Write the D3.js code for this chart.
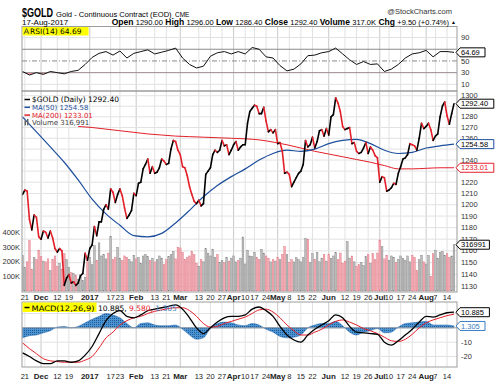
<!DOCTYPE html>
<html lang="en">
<head>
<meta charset="UTF-8">
<title>$GOLD daily</title>
<script src="https://d3js.org/d3.v7.min.js"></script>
<style>
    body { margin: 0; background: #fff; }
    svg text { font-family: "Liberation Sans", Arial, sans-serif; }
    .mono { font-family: "DejaVu Sans", Verdana, sans-serif; }
</style>
</head>
<body>
<svg id="chart" width="500" height="391"></svg>
<script>
    // trading calendar (CME holidays skipped)
    const firstDay = "2016-11-18", lastDay = "2017-08-17";
    const holidays = ["2016-11-24", "2016-12-26", "2017-01-02", "2017-01-16",
                      "2017-02-20", "2017-04-14", "2017-05-29", "2017-07-04"];

    // daily closes, Nov 18 2016 .. Aug 17 2017
    const closes = [
        1209, 1213, 1212, 1187, 1178, 1191, 1189, 1172,
        1170, 1177, 1176, 1171, 1177, 1171, 1162, 1159, 1162, 1160, 1131, 1137, 1140, 1133, 1134, 1131, 1133, 1139, 1141, 1158, 1152,
        1162, 1165, 1181, 1173, 1185, 1185, 1196, 1200, 1196, 1214, 1211, 1202, 1209, 1214, 1208, 1197, 1188, 1191, 1195, 1210,
        1208, 1219, 1220, 1232, 1236, 1241, 1228, 1234, 1228, 1229, 1233, 1241, 1239, 1236, 1237, 1250, 1258, 1257, 1249,
        1245, 1234, 1233, 1226, 1216, 1209, 1203, 1201, 1204, 1199, 1201, 1227, 1230, 1233, 1245, 1249, 1247, 1249, 1258, 1253, 1254, 1245, 1249,
        1254, 1257, 1249, 1252, 1254, 1254, 1274, 1285, 1288, 1291, 1290, 1283, 1283, 1289, 1276, 1266, 1268, 1265, 1268,
        1255, 1256, 1248, 1228, 1229, 1227, 1216, 1220, 1224, 1228, 1230, 1236, 1258, 1252, 1254, 1261, 1251, 1257, 1267, 1268, 1262, 1269,
        1263, 1280, 1282, 1298, 1293, 1285, 1271, 1268, 1269, 1270, 1255, 1256, 1248, 1246, 1247, 1251, 1256, 1246, 1252, 1249, 1244, 1242,
        1220, 1225, 1224, 1212, 1213, 1215, 1219, 1218, 1228, 1234, 1241, 1242, 1245, 1255, 1254, 1253, 1249, 1260, 1274, 1269,
        1271, 1274, 1268, 1258, 1262, 1264, 1280, 1290, 1294, 1281, 1273, 1283, 1292.4
    ];

    // daily volume in thousands
    const volumes = [
        245, 160, 200, 345, 150, 230, 215, 280,
        235, 205, 200, 220, 140, 215, 240, 170, 190, 150, 255, 215, 160, 125, 120, 105, 80, 110, 70, 95, 200,
        230, 180, 310, 210, 330, 240, 250, 220, 260, 375, 215, 230, 300, 225, 210, 240, 230, 215, 200, 245,
        220, 230, 190, 240, 250, 235, 210, 225, 200, 215, 240, 225, 180, 215, 235, 250, 270, 220, 300,
        295, 265, 215, 230, 240, 270, 250, 190, 170, 215, 200, 290, 260, 240, 285, 230, 250, 195, 210, 195, 230, 205, 225,
        240, 200, 210, 225, 370, 185, 280, 240, 235, 265, 230, 215, 285, 260, 240, 225, 200, 215, 205,
        230, 215, 250, 305, 250, 195, 215, 200, 230, 215, 200, 230, 360, 355, 195, 255, 215, 265, 200, 225, 250, 205,
        250, 225, 240, 265, 215, 260, 190, 205, 338, 225, 240, 200, 170, 180, 195, 175, 235, 250, 190, 255, 215, 260,
        350, 305, 220, 245, 210, 240, 230, 195, 215, 240, 225, 210, 240, 200, 245, 230, 140, 215, 245, 200,
        185, 245, 100, 255, 280, 225, 265, 270, 245, 255, 230, 240, 317
    ];

    // moving averages, one reading every 6 trading days
    const maStep = 6;
    const ma50 = [1280, 1266, 1252, 1238, 1222, 1205, 1192, 1182, 1173, 1172, 1175, 1184, 1195, 1207, 1217, 1225,
                  1232, 1240, 1246, 1249, 1248, 1250, 1255, 1258, 1259, 1255, 1249, 1246, 1247, 1251, 1253, 1254.58];
    const ma200 = [null, null, null, null, 1271, 1270, 1268.5, 1267, 1265.5, 1264, 1263, 1262, 1261.5, 1261, 1260.5, 1260,
                   1259.5, 1258.5, 1256.5, 1254, 1251, 1248, 1245.5, 1243, 1240.5, 1238, 1235, 1232, 1232, 1232.5, 1233, 1233.01];

    // indicators, one reading every 3 trading days
    const indStep = 3;
    const rsi = [32, 26, 30, 27, 32, 30, 28, 32, 34, 44, 56, 63, 66, 60, 67, 55, 63, 66, 69, 62,
                 65, 68, 72, 55, 44, 38, 41, 58, 64, 66, 62, 66, 62, 73, 70, 57, 55, 42, 33, 36,
                 45, 59, 60, 64, 66, 72, 62, 52, 44, 49, 44, 45, 32, 36, 44, 55, 62, 64, 68, 57, 66, 66, 64.69];
    const macd = [-17.5, -20, -23, -25, -25, -23, -23, -24, -23, -19, -13, -4, 5, 10, 12, 8, 7, 9, 12, 13,
                  14, 15, 16, 13, 7, 0, -4, 0, 4, 7, 8, 8, 9, 13, 14.5, 12, 8, 1, -5, -8.5,
                  -10, -5, -1, 2, 5, 9, 7, 1, -3, -3.5, -4, -4.5, -10, -12, -9, -5, -1, 4, 8, 7.5, 9, 10.5, 10.885];
    const signal = [-10.5, -14.5, -18, -21.5, -23, -23.5, -24, -24, -24, -22.5, -20, -14, -7, -3, 2, 5, 7, 8, 10, 11.5,
                    12.5, 13.5, 14, 14, 12, 8, 3, 0.5, 1, 3, 4.5, 6, 7.5, 10, 12.5, 13, 11, 7, 2, -2,
                    -5, -5, -3, -1, 2, 4.5, 5.5, 4, 2, -0.5, -2, -4, -6.5, -9, -9.5, -8, -4.5, 0, 3.5, 5.5, 7, 8.5, 9.58];
    const hist = [-7, -5.5, -5, -3.5, -2, 0.5, 1, 0, 1, 3.5, 6, 8, 10, 9, 7, 3, 0, 3, 3.5, 2,
                  1.5, 1.5, 2, -1, -5, -8, -7, -0.5, 3, 4, 3.5, 2, 1.5, 3, 2, -1, -3, -6, -7, -6.5,
                  -5, 0, 2, 3, 3, 4.5, 1.5, -3, -5, -3, -2, -0.5, -3.5, -3, 0.5, 3, 3.5, 4, 4.5, 2, 2, 2, 1.305];

    // date axis
    const tickDates = ["2016-11-21", "2016-12-01", "2016-12-12", "2016-12-19", "2017-01-03", "2017-01-17", "2017-01-23",
                       "2017-02-01", "2017-02-13", "2017-02-21", "2017-03-01", "2017-03-13", "2017-03-20", "2017-03-27",
                       "2017-04-03", "2017-04-10", "2017-04-17", "2017-04-24", "2017-05-01", "2017-05-08", "2017-05-15",
                       "2017-05-22", "2017-06-01", "2017-06-12", "2017-06-19", "2017-06-26", "2017-07-03", "2017-07-10",
                       "2017-07-17", "2017-07-24", "2017-08-01", "2017-08-07", "2017-08-14"];
    const tickLabels = ["21", "Dec", "12", "19", "2017", "17", "23", "Feb", "13", "21", "Mar", "13", "20", "27",
                        "Apr", "10", "17", "24", "May", "8", "15", "22", "Jun", "12", "19", "26", "Jul", "10",
                        "17", "24", "Aug", "7", "14"];

    const priceTicks = d3.range(1130, 1301, 10);
    const rsiTicks = [10, 30, 50, 70, 90];
    const macdTicks = [-20, -10, 0, 10];
    const volTicks = [100, 200, 300, 400];

    const quoteLabels = ["Open", "High", "Low", "Close", "Volume", "Chg"];
    const quoteValues = ["1290.00", "1296.00", "1286.40", "1292.40", "317.0K", "+9.50 (+0.74%)"];

    // ---------------------------------------------------------------
    const days = [];
    for (let d = new Date(firstDay + "T00:00:00Z"); d <= new Date(lastDay + "T00:00:00Z"); d.setUTCDate(d.getUTCDate() + 1)) {
        const s = d.toISOString().slice(0, 10);
        const wd = d.getUTCDay();
        if (wd !== 0 && wd !== 6 && !holidays.includes(s)) days.push(s);
    }
    if (days.length !== closes.length) console.warn("day count", days.length, closes.length);

    const svg = d3.select("#chart");
    const X0 = 22, X1 = 457;
    const RED = "#e3202a", BLUE = "#1d4f9c", GRID = "#e2e2e2";

    const x = d3.scaleLinear().domain([0, closes.length - 1]).range([22.5, 454]);
    const yRsi = d3.scaleLinear().domain([0, 100]).range([90.2, 31.7]);
    const yPx = d3.scaleLog().domain([1125.5, 1304.5]).range([292, 91]);
    const yVol = d3.scaleLinear().domain([0, 400]).range([291, 232.6]);
    const yMacd = d3.scaleLinear().domain([-27.3, 18]).range([367, 302]);

    const panels = [
        { id: "rsi", top: 26.5, bottom: 91 },
        { id: "px", top: 91, bottom: 292 },
        { id: "macd", top: 302, bottom: 367 }
    ];

    const defs = svg.append("defs");
    panels.forEach(p => {
        defs.append("clipPath").attr("id", "clip-" + p.id)
            .append("rect").attr("x", X0).attr("y", p.top).attr("width", X1 - X0).attr("height", p.bottom - p.top);
    });
    defs.append("clipPath").attr("id", "clip-below30")
        .append("rect").attr("x", X0).attr("y", yRsi(30)).attr("width", X1 - X0).attr("height", 91 - yRsi(30));
    const pat = defs.append("pattern").attr("id", "dots").attr("width", 2).attr("height", 2)
        .attr("patternUnits", "userSpaceOnUse");
    pat.append("rect").attr("width", 2).attr("height", 2).attr("fill", "#4c93d2");
    pat.append("rect").attr("width", 1).attr("height", 1).attr("fill", "#1f5b98");

    // grid
    const tickIdx = tickDates.map(t => days.indexOf(t));
    const isMonth = l => isNaN(+l) || l.length === 4;
    panels.forEach(p => {
        const g = svg.append("g");
        g.selectAll("line").data(tickIdx).enter().append("line")
            .attr("x1", d => x(d)).attr("x2", d => x(d))
            .attr("y1", p.top).attr("y2", p.bottom)
            .attr("stroke", (d, i) => isMonth(tickLabels[i]) ? "#c8c8c8" : GRID)
            .attr("stroke-width", 1);
    });

    const hGrid = (ticks, scale, color) => svg.append("g").selectAll("line").data(ticks).enter().append("line")
        .attr("x1", X0).attr("x2", X1)
        .attr("y1", d => scale(d)).attr("y2", d => scale(d))
        .attr("stroke", color).attr("stroke-width", 1);
    hGrid(priceTicks, yPx, GRID);
    hGrid([10, 90], yRsi, GRID);
    hGrid([30, 70], yRsi, "#8a8a8a");
    hGrid([50], yRsi, "#8a8a8a").attr("stroke-dasharray", "5,2,1,2");
    hGrid(macdTicks, yMacd, GRID);

    // RSI
    const rsiG = svg.append("g").attr("clip-path", "url(#clip-rsi)");
    rsiG.append("path").datum(rsi)
        .attr("clip-path", "url(#clip-below30)")
        .attr("d", d3.area().x((d, i) => x(i * indStep)).y0(yRsi(30)).y1(d => yRsi(d)))
        .attr("fill", "#f19aa5");
    rsiG.append("path").datum(rsi)
        .attr("d", d3.line().x((d, i) => x(i * indStep)).y(d => yRsi(d)))
        .attr("fill", "none").attr("stroke", "#111").attr("stroke-width", 1);

    // volume
    const pxG = svg.append("g").attr("clip-path", "url(#clip-px)");
    const down = i => i > 0 && closes[i] < closes[i - 1];
    pxG.append("g").selectAll("rect").data(volumes).enter().append("rect")
        .attr("x", (d, i) => x(i) - 0.85).attr("width", 1.7)
        .attr("y", d => yVol(d)).attr("height", d => yVol(0) - yVol(d))
        .attr("fill", (d, i) => down(i) ? "#f4aab3" : "#bdbdbd")
        .attr("stroke", (d, i) => down(i) ? "#dd7480" : "#7f7f7f")
        .attr("stroke-width", 0.4);

    // moving averages
    const maLine = d3.line().defined(d => d != null)
        .x((d, i) => x(i * maStep)).y(d => yPx(d)).curve(d3.curveMonotoneX);
    pxG.append("path").datum(ma200).attr("d", maLine)
        .attr("fill", "none").attr("stroke", RED).attr("stroke-width", 1);
    pxG.append("path").datum(ma50).attr("d", maLine)
        .attr("fill", "none").attr("stroke", BLUE).attr("stroke-width", 1.2);

    // price, coloured per day
    pxG.append("g").selectAll("line").data(d3.range(1, closes.length)).enter().append("line")
        .attr("x1", i => x(i - 1)).attr("y1", i => yPx(closes[i - 1]))
        .attr("x2", i => x(i)).attr("y2", i => yPx(closes[i]))
        .attr("stroke", i => down(i) ? RED : "#000")
        .attr("stroke-width", 1.6).attr("stroke-linecap", "round");

    // MACD
    const macdG = svg.append("g").attr("clip-path", "url(#clip-macd)");
    macdG.append("path").datum(hist)
        .attr("d", d3.area().x((d, i) => x(i * indStep)).y0(yMacd(0)).y1(d => yMacd(d)).curve(d3.curveMonotoneX))
        .attr("fill", "url(#dots)").attr("stroke", "#2f6fb0").attr("stroke-width", 0.5);
    macdG.append("line").attr("x1", X0).attr("x2", X1).attr("y1", yMacd(0)).attr("y2", yMacd(0))
        .attr("stroke", "#9a9a9a").attr("stroke-width", 0.8);
    const indLine = d3.line().x((d, i) => x(i * indStep)).y(d => yMacd(d)).curve(d3.curveMonotoneX);
    macdG.append("path").datum(signal).attr("d", indLine)
        .attr("fill", "none").attr("stroke", RED).attr("stroke-width", 1);
    macdG.append("path").datum(macd).attr("d", indLine)
        .attr("fill", "none").attr("stroke", "#000").attr("stroke-width", 1.3);

    // panel frames
    panels.forEach(p => {
        svg.append("rect").attr("x", X0).attr("y", p.top).attr("width", X1 - X0).attr("height", p.bottom - p.top)
            .attr("fill", "none").attr("stroke", "#9c9c9c").attr("stroke-width", 1);
    });

    // value tags on right edge (y positions used to hide covered axis labels)
    const last = closes.length - 1;
    const tags = [
        { panel: "rsi", y: yRsi(rsi[rsi.length - 1]), label: d3.format(".2f")(rsi[rsi.length - 1]), stroke: "#000", color: "#000" },
        { panel: "px", y: yPx(closes[last]), label: d3.format(".2f")(closes[last]), stroke: "#000", color: "#000" },
        { panel: "px", y: yPx(ma50[ma50.length - 1]), label: d3.format(".2f")(ma50[ma50.length - 1]), stroke: BLUE, color: "#000" },
        { panel: "px", y: yPx(ma200[ma200.length - 1]), label: d3.format(".2f")(ma200[ma200.length - 1]), stroke: RED, color: RED },
        { panel: "px", y: yVol(volumes[last]), label: "316991", stroke: "#000", color: "#000" },
        { panel: "macd", y: yMacd(macd[macd.length - 1]), label: d3.format(".3f")(macd[macd.length - 1]), stroke: "#000", color: "#000" },
        { panel: "macd", y: yMacd(hist[hist.length - 1]), label: d3.format(".3f")(hist[hist.length - 1]), stroke: "#3a7cc0", color: "#3a7cc0" }
    ];
    const covered = (panel, yy) => tags.some(t => t.panel === panel && Math.abs(t.y - yy) < 5.5);

    // right axis labels
    const rightLabels = (panel, ticks, scale) => svg.append("g").selectAll("text")
        .data(ticks.filter(d => !covered(panel, scale(d)))).enter().append("text")
        .attr("x", 461).attr("y", d => scale(d) + 2.6)
        .attr("font-size", 7.5).attr("fill", "#333").text(d => d);
    rightLabels("px", priceTicks, yPx);
    rightLabels("rsi", rsiTicks, yRsi);
    rightLabels("macd", macdTicks, yMacd);

    svg.append("g").selectAll("text").data(volTicks).enter().append("text")
        .attr("x", 20).attr("y", d => yVol(d) + 2.6).attr("text-anchor", "end")
        .attr("font-size", 7.5).attr("fill", "#333").text(d => d + "K");

    // date labels under price and MACD panels
    [299.5, 379].forEach(yy => {
        svg.append("g").selectAll("text").data(tickIdx).enter().append("text")
            .attr("x", d => x(d)).attr("y", yy).attr("text-anchor", "middle")
            .attr("font-size", (d, i) => isMonth(tickLabels[i]) ? 8 : 7.5)
            .attr("font-weight", (d, i) => isMonth(tickLabels[i]) ? "bold" : "normal")
            .attr("fill", "#222").text((d, i) => tickLabels[i]);
    });

    tags.forEach(t => {
        const g = svg.append("g");
        const w = t.label.length * 4.4 + 3;
        g.append("path")
            .attr("d", `M456,${t.y} L460,${t.y - 4.5} L${460 + w},${t.y - 4.5} L${460 + w},${t.y + 4.5} L460,${t.y + 4.5} Z`)
            .attr("fill", "#fff").attr("stroke", t.stroke).attr("stroke-width", 1);
        g.append("text").attr("x", 461).attr("y", t.y + 2.7).attr("font-size", 7.5)
            .attr("fill", t.color).text(t.label);
    });

    // header
    svg.append("text").attr("x", 22).attr("y", 17).attr("font-size", 12).attr("font-weight", "bold")
        .attr("textLength", 31).attr("lengthAdjust", "spacingAndGlyphs").text("$GOLD");
    svg.append("text").attr("x", 56).attr("y", 16.5).attr("font-size", 7.6).text("Gold - Continuous Contract (EOD)");
    svg.append("text").attr("x", 175).attr("y", 16.5).attr("font-size", 6.5).text("CME");
    svg.append("text").attr("x", 452).attr("y", 14).attr("font-size", 7.5).attr("text-anchor", "end")
        .attr("fill", "#333").text("@StockCharts.com");
    svg.append("text").attr("x", 22).attr("y", 25).attr("font-size", 8).text("17-Aug-2017");
    const quote = svg.append("text").attr("x", 449).attr("y", 25).attr("text-anchor", "end");
    quoteLabels.forEach((l, i) => {
        quote.append("tspan").attr("font-size", 8.5).attr("font-weight", "bold").text((i ? " " : "") + l + " ");
        quote.append("tspan").attr("font-size", 7.5).text(quoteValues[i]);
    });
    svg.append("text").attr("x", 451).attr("y", 24).attr("font-size", 5).text("▲");

    // RSI label
    svg.append("rect").attr("x", 22.5).attr("y", 27).attr("width", 66).attr("height", 8.5).attr("fill", "#ffff00");
    svg.append("path").attr("d", "M24,34 L26.5,28.5 L29,34 M25,32 L28,32").attr("stroke", "#333")
        .attr("stroke-width", 0.8).attr("fill", "none");
    svg.append("text").attr("class", "mono").attr("x", 30).attr("y", 34).attr("font-size", 7.5)
        .text("RSI(14) " + d3.format(".2f")(rsi[rsi.length - 1]));

    // price legend
    const legend = [
        { label: "$GOLD (Daily) 1292.40", color: "#000" },
        { label: "MA(50) 1254.58", color: BLUE },
        { label: "MA(200) 1233.01", color: RED },
        { label: "Volume 316,991", color: "#444" }
    ];
    legend.forEach((d, i) => {
        const yy = 102 + i * 7.8;
        if (i < 3) {
            svg.append("line").attr("x1", 24.5).attr("x2", 30).attr("y1", yy - 2.5).attr("y2", yy - 2.5)
                .attr("stroke", d.color).attr("stroke-width", 1.5);
        } else {
            svg.append("rect").attr("x", 24.5).attr("y", yy - 5).attr("width", 1.5).attr("height", 5).attr("fill", "#666");
            svg.append("rect").attr("x", 27).attr("y", yy - 6.5).attr("width", 1.5).attr("height", 6.5).attr("fill", "#666");
        }
        svg.append("text").attr("class", "mono").attr("x", 32).attr("y", yy).attr("font-size", i === 0 ? 7.5 : 7)
            .attr("fill", d.color).text(d.label);
    });

    // MACD label
    svg.append("rect").attr("x", 22.5).attr("y", 302.5).attr("width", 74).attr("height", 9.5).attr("fill", "#ffff00");
    svg.append("line").attr("x1", 24.5).attr("x2", 29.5).attr("y1", 307.5).attr("y2", 307.5)
        .attr("stroke", "#000").attr("stroke-width", 1.5);
    svg.append("text").attr("class", "mono").attr("x", 31.5).attr("y", 310.5).attr("font-size", 7.5)
        .attr("textLength", 63).attr("lengthAdjust", "spacingAndGlyphs").text("MACD(12,26,9)");
    const mt = svg.append("text").attr("class", "mono").attr("x", 98).attr("y", 310.5).attr("font-size", 7.5);
    mt.append("tspan").attr("fill", "#000").text(d3.format(".3f")(macd[macd.length - 1]) + ",");
    mt.append("tspan").attr("fill", RED).text(" " + d3.format(".3f")(signal[signal.length - 1]) + ",");
    mt.append("tspan").attr("fill", "#3a7cc0").text(" " + d3.format(".3f")(hist[hist.length - 1]));
</script>
</body>
</html>
